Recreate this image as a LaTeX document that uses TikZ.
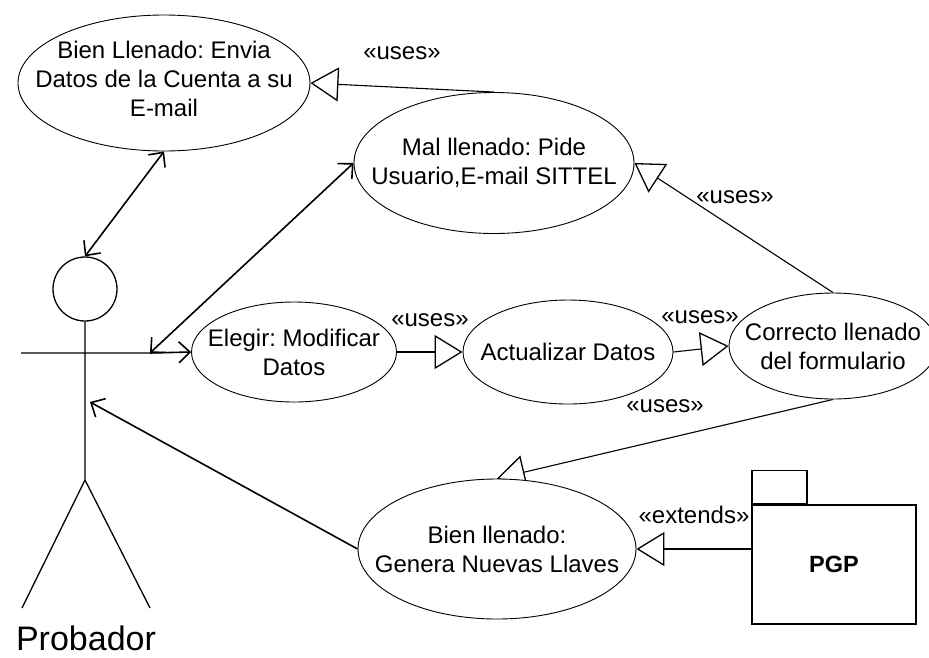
\documentclass[tikz,border=0pt]{standalone}
\usepackage{fontspec}
\setmainfont{Liberation Sans}
\usetikzlibrary{shapes.geometric,arrows.meta}
\pgfdeclarelayer{links}
\pgfsetlayers{links,main}
\frenchspacing
\begin{document}
\begin{tikzpicture}[x=1pt,y=-1pt,
  usecase/.style={ellipse,draw,fill=white,line width=0.9pt,inner sep=0pt},
  caption/.style={font=\fontsize{24}{29}\selectfont,align=center,inner sep=0pt},
  stereo/.style={font=\fontsize{24}{29}\selectfont,inner sep=0pt},
  uses/.style={line width=1.1pt,-{Triangle[open,length=28pt,width=34pt,line width=1.3pt]}},
  assoc/.style={line width=1.6pt,-{Straight Barb[length=11pt,width=21pt]}},
  assocboth/.style={line width=1.6pt,{Straight Barb[length=11pt,width=21pt]}-{Straight Barb[length=11pt,width=21pt]}},
  limb/.style={line width=1.3pt},
  pkg/.style={draw,line width=1.5pt,inner sep=0pt}]
\useasboundingbox (0,0) rectangle (929,657);
\clip (0,0) rectangle (929,657);

% use cases
\node[usecase,minimum width=292pt,minimum height=136pt,
  label={[caption,yshift=4pt]center:{Bien Llenado: Envia\\Datos de la Cuenta a su\\E-mail}}] (envia) at (164,83) {};
\node[usecase,minimum width=280pt,minimum height=141pt,
  label={[caption]center:{Mal llenado: Pide\\Usuario,E-mail SITTEL}}] (mal) at (494,163) {};
\node[usecase,minimum width=205pt,minimum height=100pt,
  label={[caption]center:{Elegir: Modificar\\Datos}}] (elegir) at (294,352) {};
\node[usecase,minimum width=210pt,minimum height=104pt,
  label={[caption]center:{Actualizar Datos}}] (actual) at (568,352) {};
\node[usecase,minimum width=208pt,minimum height=106pt,
  label={[caption]center:{Correcto llenado\\del formulario}}] (correcto) at (833,346) {};
\node[usecase,minimum width=278pt,minimum height=140pt,
  label={[caption]center:{Bien llenado:\\Genera Nuevas Llaves}}] (genera) at (497,549) {};

% package
\node[pkg,minimum width=164pt,minimum height=119pt,font=\bfseries\fontsize{23.5}{28}\selectfont] (pgp) at (834,564.5) {PGP};
\node[pkg,minimum width=55pt,minimum height=33pt,anchor=south west] (pgptab) at (pgp.north west) {};

% actor
\node[circle,draw,limb,minimum size=64pt,inner sep=0pt] (head) at (85,289) {};
\coordinate (hip) at (85,480);
\coordinate (armL) at (21,353);
\coordinate (armR) at (150,353);
\coordinate (footL) at (22,608);
\coordinate (footR) at (150,608);
\coordinate (body) at (90,402);
\draw[limb] (head.south) -- (hip) (armL) -- (armR) (hip) -- (footL) (hip) -- (footR);
\node[font=\fontsize{34}{40}\selectfont,anchor=base,inner sep=0pt] (probador) at (86,650) {Probador};

% stereotypes
\node[stereo] (s1) at (402,53) {«uses»};
\node[stereo] (s2) at (735,197) {«uses»};
\node[stereo] (s3) at (430,320) {«uses»};
\node[stereo] (s4) at (700,317) {«uses»};
\node[stereo] (s5) at (665,406) {«uses»};
\node[stereo] (s6) at (694,515) {«extends»};

% connectors
\begin{pgfonlayer}{links}
\draw[uses] (mal.north) -- (envia.east);
\draw[uses] (correcto.north) -- (mal.east);
\draw[uses] (elegir.east) -- (actual.west);
\draw[uses] (actual.east) -- (correcto.west);
\draw[uses] (correcto.south) -- (genera.north);
\draw[uses] (genera.east -| pgp.west) -- (genera.east);
\draw[assocboth] (head.north) -- (envia.south);
\draw[assocboth] (armR) -- (mal.west);
\draw[assoc] (armR) -- (elegir.west);
\draw[assoc] (genera.west) -- (body);
\end{pgfonlayer}
\end{tikzpicture}
\end{document}
